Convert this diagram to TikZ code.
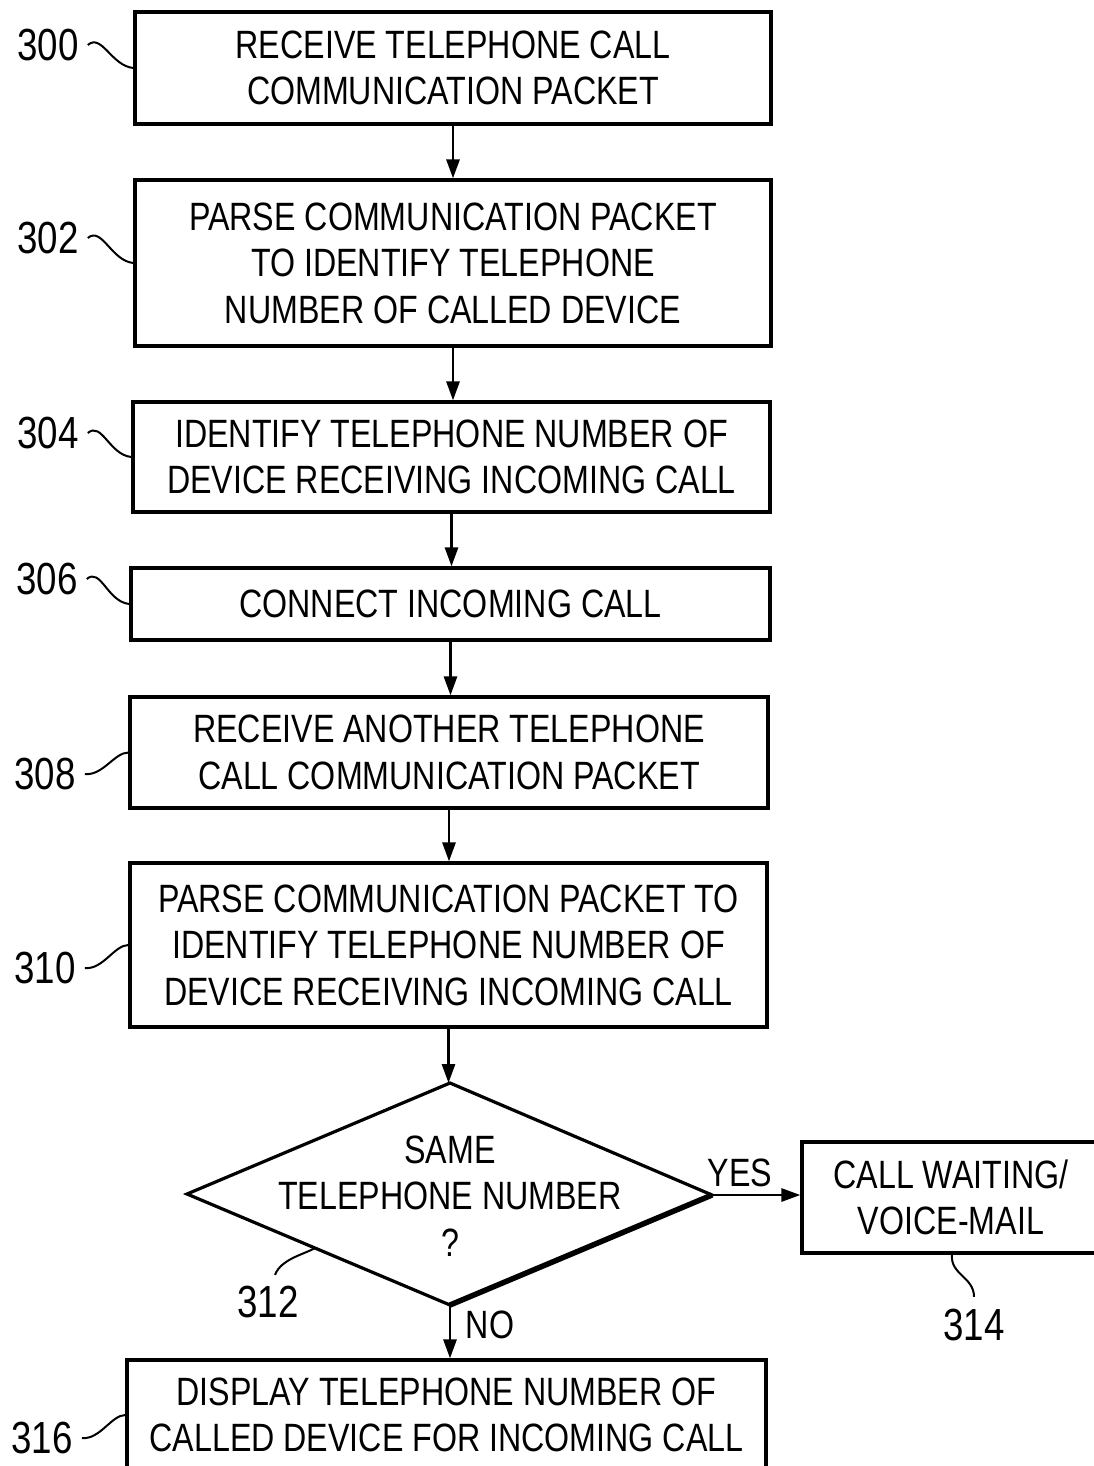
\documentclass[tikz,border=0pt]{standalone}
\usepackage{fontspec}
\setmainfont{Liberation Sans}[FakeStretch=0.815]
\usetikzlibrary{arrows.meta,calc}
\begin{document}
\begin{tikzpicture}[x=1pt,y=-1pt,
  box/.style={draw,line width=3.2pt,inner sep=0pt,align=center,font=\fontsize{39.5}{46.5}\selectfont},
  txt/.style={inner sep=0pt,align=center,font=\fontsize{39.5}{46.5}\selectfont},
  lab/.style={inner xsep=9pt,inner ysep=0pt,font=\fontsize{45}{46}\selectfont},
  yn/.style={inner sep=0pt,font=\fontsize{39.5}{46}\selectfont},
  arr/.style={line width=2.8pt,-{Triangle[length=19pt,width=13pt]}},
  sq/.style={line width=2pt}]
\useasboundingbox (0,0) rectangle (1093,1466);

% boxes
\node[box,minimum width=636pt,minimum height=112pt] (b300) at (453,68) {RECEIVE TELEPHONE CALL\\COMMUNICATION PACKET};
\node[box,minimum width=636pt,minimum height=166pt] (b302) at (453,263) {PARSE COMMUNICATION PACKET\\TO IDENTIFY TELEPHONE\\NUMBER OF CALLED DEVICE};
\node[box,minimum width=637pt,minimum height=110pt] (b304) at (451.5,457) {IDENTIFY TELEPHONE NUMBER OF\\DEVICE RECEIVING INCOMING CALL};
\node[box,minimum width=639pt,minimum height=72pt] (b306) at (450.5,604) {CONNECT INCOMING CALL};
\node[box,minimum width=638pt,minimum height=111pt] (b308) at (449,752.5) {RECEIVE ANOTHER TELEPHONE\\CALL COMMUNICATION PACKET};
\node[box,minimum width=637pt,minimum height=164pt] (b310) at (448.5,945) {PARSE COMMUNICATION PACKET TO\\IDENTIFY TELEPHONE NUMBER OF\\DEVICE RECEIVING INCOMING CALL};
\node[box,minimum width=298pt,minimum height=111pt] (b314) at (951,1197.5) {CALL WAITING/\\VOICE-MAIL};
\node[box,minimum width=639pt,minimum height=110pt] (b316) at (446.5,1415) {DISPLAY TELEPHONE NUMBER OF\\CALLED DEVICE FOR INCOMING CALL};

% decision
\coordinate (dT) at (450,1083);
\coordinate (dR) at (712,1195);
\coordinate (dB) at (450,1305);
\coordinate (dL) at (187,1194);
\draw[line width=3.2pt,line join=miter] (dT) -- (dR) -- (dB) -- (dL) -- cycle;
\draw[line width=5.5pt] (dR) -- (dB);
\node[txt] (d312) at (450,1196) {SAME\\TELEPHONE NUMBER\\?};

% arrows
\draw[arr] (b300.south) -- (b300.south |- b302.north);
\draw[arr] (b302.south) -- (b302.south |- b304.north);
\draw[arr] (b304.south) -- (b304.south |- b306.north);
\draw[arr] (b306.south) -- (b306.south |- b308.north);
\draw[arr] (b308.south) -- (b308.south |- b310.north);
\draw[arr] (b310.south) -- (b310.south |- dT);
\draw[arr] (dR) -- (dR -| b314.west);
\draw[arr] (dB) -- (dB |- b316.north);
\node[yn] (yes) at (740,1173) {YES};
\node[yn] (no) at (490,1325) {NO};

% reference labels
\node[lab] (l300) at (48,45) {300};
\node[lab] (l302) at (48,238) {302};
\node[lab] (l304) at (48,433) {304};
\node[lab] (l306) at (47,579) {306};
\node[lab] (l308) at (45,774) {308};
\node[lab] (l310) at (45,968) {310};
\node[lab] (l312) at (268,1302) {312};
\node[lab] (l314) at (974,1325) {314};
\node[lab] (l316) at (42,1438) {316};

\draw[sq] (l300.east) .. controls +(14,-12) and +(-22,-2) .. (b300.west);
\draw[sq] (l302.east) .. controls +(14,-12) and +(-22,-2) .. (b302.west);
\draw[sq] (l304.east) .. controls +(14,-12) and +(-22,-2) .. (b304.west);
\draw[sq] (l306.east) .. controls +(14,-12) and +(-22,-2) .. (b306.west);
\draw[sq] (l308.east) .. controls +(18,2) and +(-14,0) .. (b308.west);
\draw[sq] (l310.east) .. controls +(18,2) and +(-14,0) .. (b310.west);
\draw[sq] (l316.east) .. controls +(18,2) and +(-14,0) .. (b316.west);
\draw[sq] ($(l312.north)+(7,-11)$) .. controls +(6,-16) and +(-10,6) .. (315,1248);
\draw[sq] ($(b314.south)+(1,0)$) .. controls +(-2,20) and +(0,-20) .. ($(l314.north)+(0,-12)$);
\end{tikzpicture}
\end{document}
